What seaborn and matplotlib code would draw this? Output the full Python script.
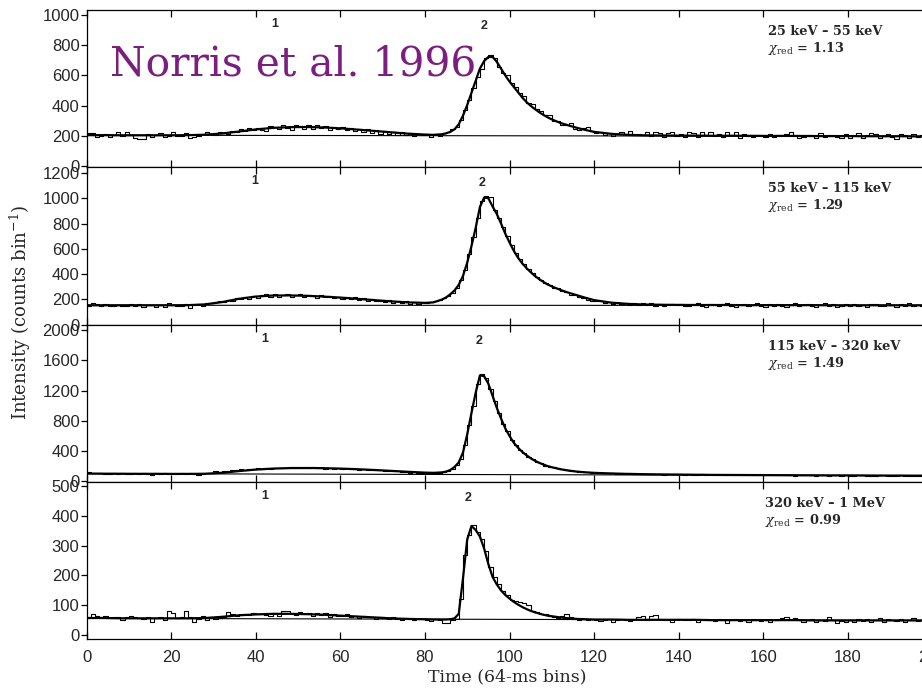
import numpy as np
import pandas as pd
import matplotlib
matplotlib.use("Agg")
import matplotlib.pyplot as plt
import matplotlib.transforms as mtransforms
import seaborn as sns

# ---------------- data ----------------
bands = ["25 keV – 55 keV", "55 keV – 115 keV", "115 keV – 320 keV", "320 keV – 1 MeV"]
chi_red = ["1.13", "1.29", "1.49", "0.99"]
pulse1_pos = [44.4, 39.7, 42.2, 42.2]
pulse2_pos = [94.0, 93.6, 92.7, 90.3]
ylims = [(-4, 1032), (-3, 1247), (-9, 2066), (-12, 512)]
yticks = [list(range(0, 1001, 200)), list(range(0, 1201, 200)),
          list(range(0, 2001, 400)), list(range(0, 501, 100))]
xticks = list(range(0, 201, 20))

hist1 = [218,222,196,200,212,195,205,226,200,224,
         208,188,182,184,214,196,206,222,194,202,
         228,200,198,222,190,194,200,212,224,216,
         204,230,222,214,236,226,244,232,252,238,
         254,240,236,268,262,244,270,252,238,272,
         266,250,270,246,276,254,268,240,262,244,
         262,238,256,232,250,230,244,220,240,216,
         236,212,228,204,226,206,220,198,216,204,
         214,196,216,200,222,228,244,262,308,372,
         440,520,590,645,715,735,712,655,618,600,
         548,526,482,462,420,412,382,368,340,336,
         300,302,276,276,284,250,238,256,258,236,
         218,228,210,222,200,214,228,212,232,206,
         214,208,228,200,226,218,196,222,230,202,
         216,194,228,218,196,228,206,224,200,216,
         194,224,210,226,190,214,200,196,210,208,
         196,216,192,206,208,216,224,198,186,192,
         206,210,188,218,194,204,210,196,186,212,
         186,206,218,190,204,222,212,186,198,216,
         194,184,214,206,190,216,196,204]

hist2 = [146,170,160,150,162,146,144,158,150,146,
         164,148,160,142,152,156,140,152,140,170,
         158,144,150,164,132,154,160,146,170,172,
         182,190,176,196,188,212,200,222,206,230,
         214,236,240,216,244,220,232,246,222,238,
         242,220,234,230,214,238,216,228,208,222,
         206,222,200,216,194,210,190,204,186,190,
         180,194,174,186,170,184,166,178,164,176,
         168,180,188,196,208,228,250,290,350,430,
         555,690,840,975,1015,1010,905,845,775,700,
         628,566,520,478,442,408,378,352,330,314,
         292,288,264,256,236,234,218,212,196,190,
         184,188,172,182,166,176,160,172,156,170,
         156,168,158,170,150,166,146,158,164,152,
         166,146,144,162,168,150,140,164,156,146,
         162,170,148,140,158,164,144,156,168,148,
         142,162,150,164,148,140,158,168,146,156,
         164,148,140,156,168,148,162,136,150,160,
         144,166,148,158,140,162,164,148,144,170,
         152,140,162,148,168,144,158,150]

hist3 = [128,116,104,112,98,92,106,96,108,102,
         92,104,92,106,96,90,104,94,106,92,
         100,92,104,94,106,98,90,102,108,114,
         140,118,130,142,152,150,162,154,168,160,
         172,162,176,168,180,170,182,172,184,174,
         182,170,178,184,170,176,168,180,164,172,
         166,172,160,168,156,162,150,156,144,150,
         138,140,130,132,122,124,116,118,110,116,
         108,106,114,108,120,132,162,214,300,480,
         740,1000,1280,1420,1360,1220,1060,900,760,660,
         548,480,420,370,326,290,256,236,208,192,
         184,170,160,150,140,134,126,118,124,114,
         112,108,115,104,106,100,102,98,104,96,
         100,96,94,98,92,96,90,94,97,91,
         92,88,95,86,90,92,84,88,90,86,
         88,84,90,82,86,84,80,88,85,82,
         84,80,86,82,78,84,80,76,82,80,
         78,82,76,80,84,75,78,80,74,80,
         76,72,80,78,74,76,70,78,80,74,
         76,72,78,74,70,76,74,72]

hist4 = [62,72,66,60,64,58,62,60,50,60,
         65,62,58,55,60,46,58,62,52,80,
         74,58,60,82,62,45,56,64,52,62,
         55,58,62,78,72,65,70,70,68,76,
         72,70,68,66,74,66,80,80,72,68,
         78,70,74,66,76,68,74,62,70,66,
         64,70,62,66,58,64,60,62,56,60,
         58,54,60,56,52,58,55,50,56,54,
         52,48,56,50,42,40,52,56,120,270,
         335,368,345,322,282,228,196,170,148,136,
         118,116,112,108,100,82,78,72,72,66,
         62,58,66,70,60,55,52,56,50,54,
         52,48,50,56,46,52,54,50,48,52,
         62,66,50,64,68,54,50,52,46,54,
         56,50,52,55,44,50,52,50,48,56,
         50,42,52,54,48,50,46,52,50,48,
         50,46,50,52,58,60,56,58,52,44,
         50,56,46,52,48,60,52,40,48,44,
         52,46,54,48,56,44,52,58,46,54,
         50,48,56,44,52,58,48,50]

fit_x = [0,4,8,12,16,20,24,28,32,36,40,44,48,52,56,60,64,68,72,76,80,
         82,84,
         85,86,87,88,89,90,91,92,93,94,95,96,97,98,99,100,101,102,103,104,105,106,107,108,109,110,
         112,114,116,118,120,
         124,128,132,136,140,144,148,152,156,160,164,168,172,176,180,184,188,192,196,
         198]

fit1 = [206,206,205,205,205,205,206,209,217,230,244,254,259,260,257,251,243,234,225,216,210,
        208,212,
        218,228,245,278,335,405,485,565,645,695,722,722,690,645,600,560,525,490,455,425,400,378,358,340,324,310,
        287,270,254,240,228,
        215,208,205,204,203,203,202,202,202,201,201,201,200,200,200,199,199,199,198,
        198]
fit2 = [153,153,153,153,153,153,154,160,178,204,222,230,231,228,222,214,204,194,184,176,172,
        176,198,
        215,240,270,315,385,490,620,765,930,1005,1000,935,875,800,720,650,585,530,485,448,415,385,360,338,318,302,
        275,252,232,212,194,
        174,164,159,157,156,155,155,155,154,154,154,154,154,153,153,153,153,153,153,
        153]
fit3 = [102,101,100,99,99,98,98,100,112,135,155,168,175,176,174,168,160,150,138,126,115,
        112,118,
        128,150,190,250,380,620,900,1170,1400,1390,1290,1130,970,830,700,600,510,445,390,345,305,272,245,222,202,186,
        160,142,128,119,112,
        104,98,94,91,89,87,85,84,83,82,81,80,79,78,78,77,76,76,75,
        75]
fit4 = [58,58,57,57,57,57,57,58,62,67,70,72,72,71,69,66,63,60,57,55,54,
        53,53,
        53,54,57,72,190,320,365,352,330,290,238,195,170,150,135,123,112,103,95,88,82,77,73,69,66,64,
        60,57,55,54,53,
        53,52,52,52,52,52,51,51,51,51,51,51,50,50,50,50,50,50,50,
        50]

bg_x = [0, 198]
bg1 = [206, 198]
bg2 = [153, 152]
bg3 = [102, 75]
bg4 = [57, 50]

hists = [hist1, hist2, hist3, hist4]
fits = [fit1, fit2, fit3, fit4]
bgs = [bg1, bg2, bg3, bg4]

# ---------------- style ----------------
sns.set_style("ticks")
plt.rcParams["font.family"] = ["Liberation Sans", "DejaVu Sans"]
plt.rcParams["mathtext.fontset"] = "dejavuserif"
plt.rcParams["axes.linewidth"] = 0.9

W, H = 922, 689
fig = plt.figure(figsize=(W / 100, H / 100), dpi=100)
bounds = [10, 167, 325, 482, 639]
x0_px, x200_px = 86.5, 932.5

for k in range(4):
    t, b = bounds[k], bounds[k + 1]
    ax = fig.add_axes([x0_px / W, 1 - b / H, (x200_px - x0_px) / W, (b - t) / H])
    ax.set_facecolor("white")

    h = hists[k]
    edges = list(range(len(h) + 1))
    hy = h + [h[-1]]
    df_h = pd.DataFrame({"t": edges, "c": hy})
    sns.lineplot(data=df_h, x="t", y="c", drawstyle="steps-post", color="black",
                 lw=0.8, estimator=None, ax=ax)
    sns.lineplot(x=bg_x, y=bgs[k], color="black", lw=0.8, estimator=None, ax=ax)
    sns.lineplot(x=fit_x, y=fits[k], color="black", lw=1.6, estimator=None, ax=ax)

    ax.set_xlim(0, 200)
    ax.set_ylim(*ylims[k])
    ax.set_yticks(yticks[k])
    ax.set_xticks(xticks)
    ax.set_xlabel("")
    ax.set_ylabel("")
    ax.spines["right"].set_visible(False)
    for s in ["left", "top", "bottom"]:
        ax.spines[s].set_color("black")
    ax.tick_params(axis="x", direction="in", top=True, bottom=True, length=5,
                   width=0.9, color="black", labelsize=12, pad=8,
                   labelbottom=(k == 3))
    ax.tick_params(axis="y", direction="out", length=4, width=0.9, color="black",
                   labelsize=12, pad=1)

    tr = mtransforms.blended_transform_factory(ax.transData, ax.transAxes)
    ax.text(pulse1_pos[k], 0.91, "1", transform=tr, ha="center", va="center",
            fontsize=9, fontweight="bold")
    ax.text(pulse2_pos[k], 0.90, "2", transform=tr, ha="center", va="center",
            fontsize=9, fontweight="bold")
    bx = 160.5 if k == 3 else 161.2
    ax.text(bx, 0.865, bands[k], transform=tr, ha="left", va="center",
            fontsize=9.3, family="DejaVu Serif", fontweight="bold")
    ax.text(bx, 0.755, r"$\chi_{\rm red}$ = " + chi_red[k], transform=tr,
            ha="left", va="center", fontsize=9.3, family="DejaVu Serif",
            fontweight="bold")

fig.text(110 / W, 1 - 75 / H, "Norris et al. 1996", color="#7b1f7e",
         fontsize=29.3, family="DejaVu Serif", ha="left", va="baseline")
fig.text(507 / W, 1 - 677 / H, "Time (64-ms bins)", fontsize=12.5,
         family="DejaVu Serif", ha="center", va="center")
fig.text(20 / W, 1 - 312 / H, r"Intensity (counts bin$^{-1}$)", fontsize=13,
         family="DejaVu Serif", ha="center", va="center", rotation=90)

fig.savefig("out.png", dpi=100)
